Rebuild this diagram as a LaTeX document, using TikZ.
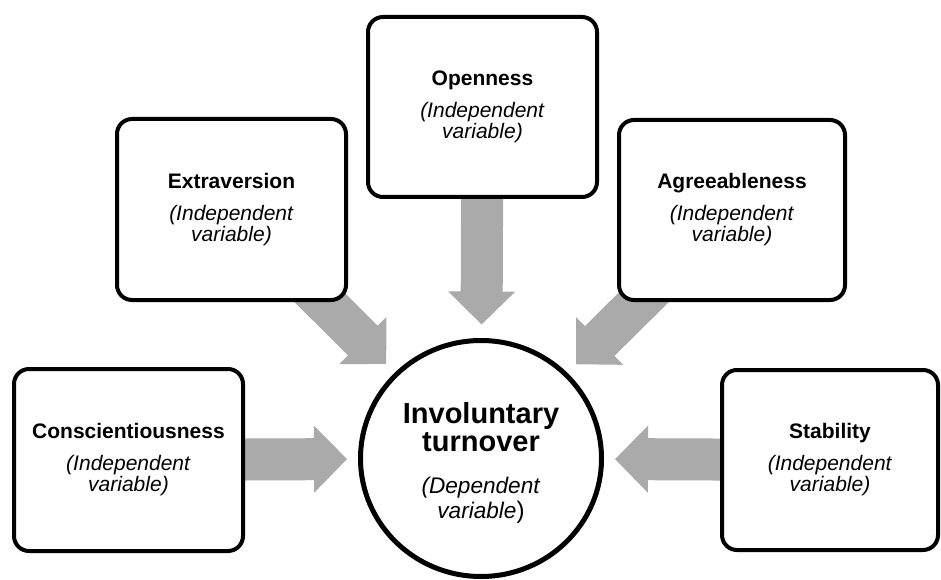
\documentclass[tikz,border=0pt]{standalone}
\usepackage{fontspec}
\setmainfont{Liberation Sans}
\usetikzlibrary{calc,shapes.geometric}
\pgfdeclarelayer{bg}
\pgfsetlayers{bg,main}
\definecolor{arrowgray}{RGB}{170,170,170}
% keep line distances exactly at the baselineskip
\lineskiplimit=-100pt

\tikzset{
  factor/.style={draw=black, line width=4pt, fill=white, rounded corners=15pt,
    minimum width=229pt, minimum height=181pt, inner sep=0pt, align=center,
    font=\fontsize{21}{21}\selectfont},
  outcome/.style={ellipse, draw=black, line width=5pt, fill=white,
    minimum width=241pt, minimum height=236pt, inner sep=0pt, align=center,
    font=\fontsize{22.6}{28}\selectfont},
  arrowfill/.style={fill=arrowgray},
}

% label of one predictor box: trait name over "(Independent variable)"
\newcommand\traitlabel[1]{\textbf{#1}\\[11pt]\textit{(Independent}\\\textit{variable)}}

% wide block arrow from the centre of node #1 towards node #2,
% its tip stopping 134pt short of the centre of #2
\newcommand\feedarrow[2]{%
  \path ($(#2.center)!134pt!(#1.center)$) coordinate (tip-#1)
        ($(tip-#1)!33pt!(#1.center)$) coordinate (neck-#1);
  \fill[arrowfill] ($(#1.center)!21pt!90:(tip-#1)$)
    -- ($(neck-#1)!21pt!90:(tip-#1)$)
    -- ($(neck-#1)!33.5pt!90:(tip-#1)$)
    -- (tip-#1)
    -- ($(neck-#1)!33.5pt!-90:(tip-#1)$)
    -- ($(neck-#1)!21pt!-90:(tip-#1)$)
    -- ($(#1.center)!21pt!-90:(tip-#1)$) -- cycle;
}

\begin{document}
\begin{tikzpicture}[x=1pt, y=1pt]
  \useasboundingbox (0,0) rectangle (941,579);

  % predictor boxes
  \node[factor] (ext) at (231.5,369.5) {\traitlabel{Extraversion}};
  \node[factor, minimum height=180pt] (opn) at (482.5,472) {\traitlabel{Openness}};
  \node[factor, minimum width=226pt, minimum height=180pt] (agr) at (732,369) {\traitlabel{Agreeableness}};
  \node[factor, minimum height=182pt] (con) at (128.5,119) {\traitlabel{Conscientiousness}};
  \node[factor, minimum width=216pt, minimum height=180pt] (sta) at (830,119) {\traitlabel{Stability}};

  % outcome
  \node[outcome] (inv) at (481,120.5)
    {\rule{0pt}{29pt}{\bfseries\fontsize{29}{28}\selectfont Involuntary}\\
     {\bfseries\fontsize{29}{28}\selectfont turnover}\\[14pt]
     \textit{(Dependent}\\[-3pt]
     \textit{variable}{\fontsize{24}{28}\selectfont)}};

  % arrows behind the boxes
  \begin{pgfonlayer}{bg}
    \fill[white] (0,0) rectangle (941,579);
    \feedarrow{ext}{inv}
    \feedarrow{opn}{inv}
    \feedarrow{agr}{inv}
    \feedarrow{con}{inv}
    \feedarrow{sta}{inv}
  \end{pgfonlayer}
\end{tikzpicture}
\end{document}
